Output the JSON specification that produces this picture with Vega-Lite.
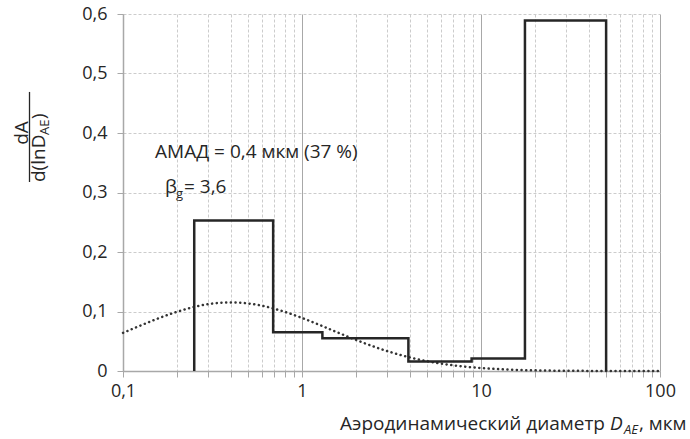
{
  "$schema": "https://vega.github.io/schema/vega-lite/v6.json",
  "width": 537,
  "height": 357,
  "autosize": {"type": "none"},
  "padding": {"left": 123, "top": 14, "right": 30, "bottom": 68},
  "config": {"view": {"stroke": null}, "font": "Open Sans", "text": {"font": "Open Sans", "color": "#262626", "fontSize": 19}},
  "datasets": {
    "hist": [
      {"i": 0, "x": 0.25, "y": 0},
      {"i": 1, "x": 0.25, "y": 0.253},
      {"i": 2, "x": 0.69, "y": 0.253},
      {"i": 3, "x": 0.69, "y": 0.065},
      {"i": 4, "x": 1.3, "y": 0.065},
      {"i": 5, "x": 1.3, "y": 0.055},
      {"i": 6, "x": 3.93, "y": 0.055},
      {"i": 7, "x": 3.93, "y": 0.016},
      {"i": 8, "x": 8.86, "y": 0.016},
      {"i": 9, "x": 8.86, "y": 0.021},
      {"i": 10, "x": 17.6, "y": 0.021},
      {"i": 11, "x": 17.6, "y": 0.589},
      {"i": 12, "x": 50, "y": 0.589},
      {"i": 13, "x": 50, "y": 0}
    ],
    "curve": [
      {"x": 0.1, "y": 0.0641}, {"x": 0.126, "y": 0.0767}, {"x": 0.158, "y": 0.0886},
      {"x": 0.2, "y": 0.0995}, {"x": 0.25, "y": 0.1077}, {"x": 0.316, "y": 0.1133},
      {"x": 0.4, "y": 0.1152}, {"x": 0.5, "y": 0.1135}, {"x": 0.63, "y": 0.1082},
      {"x": 0.8, "y": 0.0995}, {"x": 1, "y": 0.0892}, {"x": 1.26, "y": 0.0771},
      {"x": 1.6, "y": 0.0641}, {"x": 2, "y": 0.0523}, {"x": 2.5, "y": 0.0414},
      {"x": 3.16, "y": 0.0313}, {"x": 4, "y": 0.0229}, {"x": 5, "y": 0.0165},
      {"x": 6.3, "y": 0.0114}, {"x": 8, "y": 0.0075}, {"x": 10, "y": 0.0049},
      {"x": 12.6, "y": 0.0031}, {"x": 16, "y": 0.0018}, {"x": 20, "y": 0.0011},
      {"x": 25, "y": 0.0006}, {"x": 31.6, "y": 0.0003}, {"x": 40, "y": 0.0002},
      {"x": 50, "y": 0.0001}, {"x": 63, "y": 0}, {"x": 80, "y": 0}, {"x": 100, "y": 0}
    ]
  },
  "encoding": {
    "x": {
      "field": "x", "type": "quantitative",
      "scale": {"type": "log", "domain": [0.1, 100], "nice": false},
      "axis": {
        "title": null,
        "values": [0.1, 0.2, 0.3, 0.4, 0.5, 0.6, 0.7, 0.8, 0.9, 1, 2, 3, 4, 5, 6, 7, 8, 9, 10, 20, 30, 40, 50, 60, 70, 80, 90, 100],
        "format": "~g",
        "labelExpr": "indexof([0.1, 1, 10, 100], datum.value) >= 0 ? replace(datum.label, '.', ',') : ''",
        "labelOverlap": false,
        "labelFlush": false,
        "labelFont": "Open Sans",
        "labelFontSize": 18,
        "labelColor": "#262626",
        "labelPadding": 5,
        "grid": true,
        "gridColor": {"condition": {"test": "indexof([0.1, 1, 10, 100], datum.value) >= 0", "value": "#a8a8a8"}, "value": "#cccccc"},
        "gridDash": {"condition": {"test": "indexof([0.1, 1, 10, 100], datum.value) >= 0", "value": []}, "value": [3, 2]},
        "gridWidth": 1,
        "tickColor": "#a8a8a8",
        "tickSize": 6,
        "domainColor": "#a8a8a8",
        "domainWidth": 1.5
      }
    },
    "y": {
      "field": "y", "type": "quantitative",
      "scale": {"domain": [0, 0.6], "nice": false, "zero": true},
      "axis": {
        "title": null,
        "values": [0, 0.1, 0.2, 0.3, 0.4, 0.5, 0.6],
        "format": ".1~f",
        "labelExpr": "replace(datum.label, '.', ',')",
        "labelFlush": false,
        "labelFont": "Open Sans",
        "labelFontSize": 18,
        "labelColor": "#262626",
        "labelPadding": 10,
        "grid": true,
        "gridColor": "#cccccc",
        "gridDash": [3, 2],
        "tickColor": "#a8a8a8",
        "tickSize": 6,
        "domainColor": "#a8a8a8",
        "domainWidth": 1.5
      }
    }
  },
  "layer": [
    {
      "data": {"name": "curve"},
      "mark": {"type": "line", "color": "#333333", "strokeWidth": 2.5, "strokeDash": [0.1, 4.6], "strokeCap": "round", "interpolate": "monotone"}
    },
    {
      "data": {"name": "hist"},
      "mark": {"type": "line", "color": "#262626", "strokeWidth": 2.5, "strokeJoin": "miter"},
      "encoding": {"order": {"field": "i", "type": "quantitative"}}
    },
    {
      "data": {"values": [{"x": 0.151, "y": 0.3575, "t": "АМАД = 0,4 мкм (37 %)"}, {"x": 0.2192, "y": 0.2997, "t": "= 3,6"}, {"x": 0.1716, "y": 0.2997, "t": "β"}]},
      "mark": {"type": "text", "align": "left", "baseline": "alphabetic"},
      "encoding": {"text": {"field": "t"}}
    },
    {
      "data": {"values": [{"x": 0.1977, "y": 0.2908, "t": "g"}]},
      "mark": {"type": "text", "align": "left", "baseline": "alphabetic", "fontSize": 13},
      "encoding": {"text": {"field": "t"}}
    },
    {
      "data": {"values": [{"x": 0.03004, "y": 0.469, "y2": 0.3176}]},
      "mark": {"type": "rule", "color": "#262626", "strokeWidth": 1.3},
      "encoding": {"y2": {"field": "y2"}}
    },
    {
      "data": {"values": [{"x": 0.02946, "y": 0.4, "t": "dA"}]},
      "mark": {"type": "text", "angle": 270, "align": "center", "baseline": "alphabetic"},
      "encoding": {"text": {"field": "t"}}
    },
    {
      "data": {"values": [{"x": 0.03665, "y": 0.3176, "t": "d(lnD"}, {"x": 0.03665, "y": 0.4235, "t": ")"}]},
      "mark": {"type": "text", "angle": 270, "align": "left", "baseline": "alphabetic"},
      "encoding": {"text": {"field": "t"}}
    },
    {
      "data": {"values": [{"x": 0.03861, "y": 0.3966, "t": "AE"}]},
      "mark": {"type": "text", "angle": 270, "align": "left", "baseline": "alphabetic", "fontSize": 13},
      "encoding": {"text": {"field": "t"}}
    },
    {
      "data": {"values": [{"x": 49.28, "y": -0.0992, "t": "Аэродинамический диаметр"}]},
      "mark": {"type": "text", "align": "right", "baseline": "alphabetic"},
      "encoding": {"text": {"field": "t"}}
    },
    {
      "data": {"values": [{"x": 52.56, "y": -0.0992, "t": "D"}]},
      "mark": {"type": "text", "align": "left", "baseline": "alphabetic", "fontStyle": "italic"},
      "encoding": {"text": {"field": "t"}}
    },
    {
      "data": {"values": [{"x": 62.94, "y": -0.1059, "t": "AE"}]},
      "mark": {"type": "text", "align": "left", "baseline": "alphabetic", "fontStyle": "italic", "fontSize": 13},
      "encoding": {"text": {"field": "t"}}
    },
    {
      "data": {"values": [{"x": 76.3, "y": -0.0992, "t": ", мкм"}]},
      "mark": {"type": "text", "align": "left", "baseline": "alphabetic"},
      "encoding": {"text": {"field": "t"}}
    }
  ]
}
